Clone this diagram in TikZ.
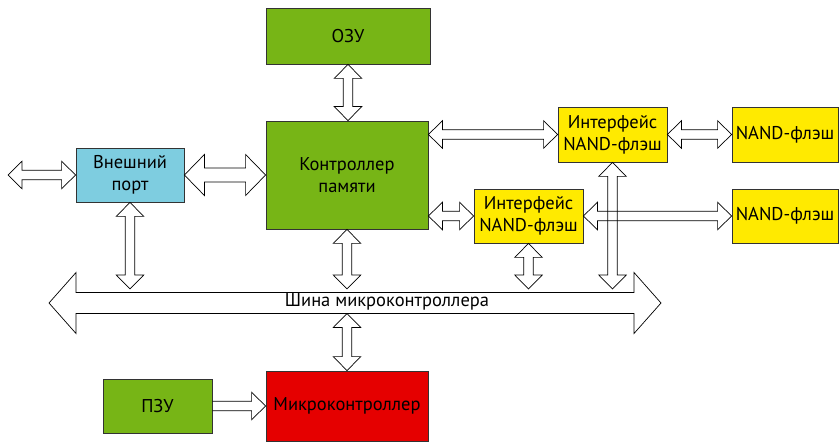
\documentclass[tikz,border=0pt]{standalone}
\usepackage{fontspec}
\setsansfont{PT Sans}
\usetikzlibrary{calc}
\definecolor{ramgreen}{HTML}{77B516}
\definecolor{portblue}{HTML}{7ECDE0}
\definecolor{nandyellow}{HTML}{FFEA00}
\definecolor{mcured}{HTML}{E50000}

% block arrows: from, to, half body, half head, head length
\newcommand{\dblarr}[5]{%
  \path (#1) coordinate (as) (#2) coordinate (ae);
  \draw[blockarr] (as)
    -- ($(as)!#5!(ae)!#4!90:(ae)$) -- ($(as)!#5!(ae)!#3!90:(ae)$)
    -- ($(ae)!#5!(as)!#3!-90:(as)$) -- ($(ae)!#5!(as)!#4!-90:(as)$)
    -- (ae)
    -- ($(ae)!#5!(as)!#4!90:(as)$) -- ($(ae)!#5!(as)!#3!90:(as)$)
    -- ($(as)!#5!(ae)!#3!-90:(ae)$) -- ($(as)!#5!(ae)!#4!-90:(ae)$)
    -- cycle;}
\newcommand{\onearr}[5]{%
  \path (#1) coordinate (as) (#2) coordinate (ae);
  \draw[blockarr] ($(as)!#3!90:(ae)$)
    -- ($(ae)!#5!(as)!#3!-90:(as)$) -- ($(ae)!#5!(as)!#4!-90:(as)$)
    -- (ae)
    -- ($(ae)!#5!(as)!#4!90:(as)$) -- ($(ae)!#5!(as)!#3!90:(as)$)
    -- ($(as)!#3!-90:(ae)$);}
\newcommand{\sdbl}[2]{\dblarr{#1}{#2}{4.75pt}{13.75pt}{14pt}}

\begin{document}
\begin{tikzpicture}[x=1pt, y=-1pt,
  box/.style={rectangle, draw=black!80, line width=0.8pt, align=center,
              font=\sffamily\fontsize{18.5}{22}\selectfont, inner sep=0pt},
  green/.style={box, fill=ramgreen},
  blue/.style={box, fill=portblue},
  yellow/.style={box, fill=nandyellow},
  red/.style={box, fill=mcured},
  blockarr/.style={draw=black, line width=0.7pt, line join=miter}
]
  \useasboundingbox (0,0) rectangle (840,443);
  \node[green, minimum width=164, minimum height=56] (ozu) at (348,36) {ОЗУ};
  \node[green, minimum width=162, minimum height=108] (mem) at (347,175) {Контроллер\\памяти};
  \node[blue, minimum width=108, minimum height=54] (port) at (130,175) {Внешний\\порт};
  \node[yellow, minimum width=109, minimum height=55] (ifa) at (612.5,134.5) {Интерфейс\\NAND-флэш};
  \node[yellow, minimum width=109, minimum height=54] (ifb) at (528.5,216) {Интерфейс\\NAND-флэш};
  \node[yellow, minimum width=106, minimum height=55] (nanda) at (785,134.5) {NAND-флэш};
  \node[yellow, minimum width=106, minimum height=54] (nandb) at (785,216) {NAND-флэш};
  \node[green, minimum width=109, minimum height=54] (pzu) at (157.5,406) {ПЗУ};
  \node[red, minimum width=162, minimum height=70] (mcu) at (347,406) {Микроконтроллер};

  % bus
  \coordinate (busl) at (49,303);
  \coordinate (busr) at (661,303);
  \coordinate (bust) at (0,289);
  \coordinate (busb) at (0,313.5);
  \coordinate (ext) at (8,175);
  \dblarr{busl}{busr}{10.5pt}{30.5pt}{27pt}
  \node[font=\sffamily\fontsize{18.5}{22}\selectfont] (busname) at (387,302) {Шина микроконтроллера};

  \sdbl{ozu.south}{ozu.south |- mem.north}
  \sdbl{mem.south}{mem.south |- bust}
  \sdbl{ext}{port.west}
  \dblarr{port.east}{mem.west}{7pt}{20.5pt}{20pt}
  \sdbl{ifa.west -| mem.east}{ifa.west}
  \sdbl{ifb.west -| mem.east}{ifb.west}
  \sdbl{ifa.east}{nanda.west}
  \sdbl{ifb.east}{nandb.west}
  \sdbl{ifa.south}{ifa.south |- bust}
  \sdbl{ifb.south}{ifb.south |- bust}
  \sdbl{port.south}{port.south |- bust}
  \sdbl{mcu.north |- busb}{mcu.north}
  \onearr{pzu.east}{pzu.east -| mcu.west}{4.75pt}{13.75pt}{14pt}
\end{tikzpicture}
\end{document}
